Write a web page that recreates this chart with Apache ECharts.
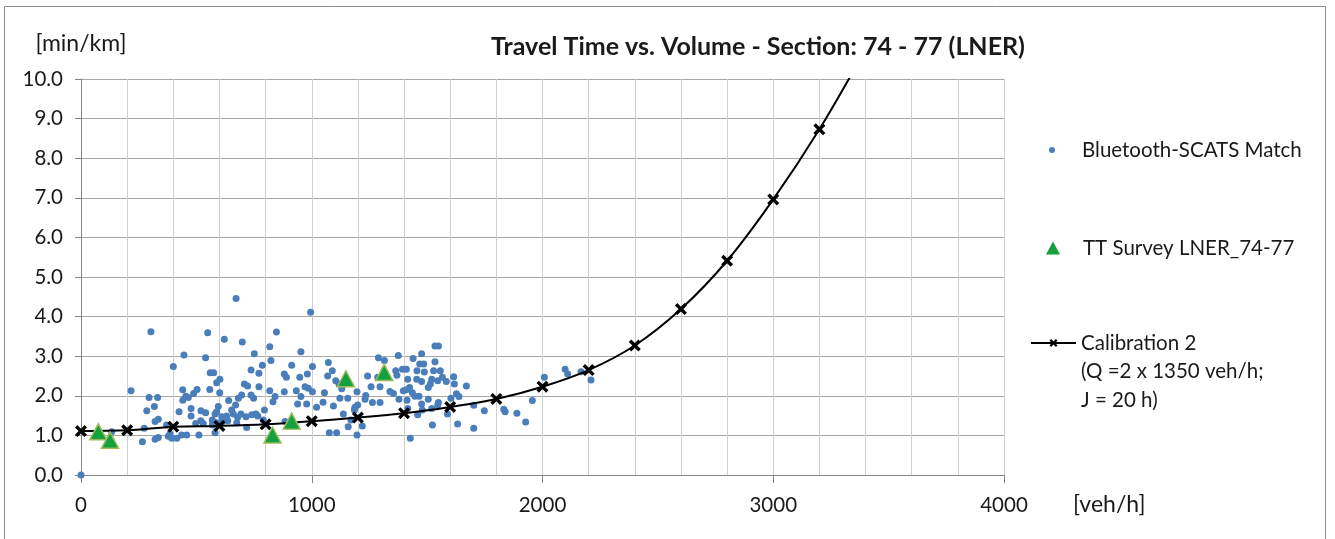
<!DOCTYPE html>
<html>
<head>
<meta charset="utf-8">
<style>
  html, body { margin: 0; padding: 0; background: #fff; }
  #chart { width: 1335px; height: 539px; }
</style>
<script src="https://cdn.jsdelivr.net/npm/echarts@6/dist/echarts.min.js"></script>
</head>
<body>
<div id="chart"></div>
<script>
// Bluetooth-SCATS matched observations: volume [veh/h] and travel time [min/km]
const btVolume = [
  0, 303, 446, 400, 217, 295, 332, 441, 441, 318, 285, 425, 335, 321, 371, 274, 133, 266, 321, 335, 378, 393, 415, 436, 386,
  672, 549, 621, 699, 847, 818, 751, 540, 823, 786, 913, 737, 560, 575, 771, 881, 890, 602, 588, 708, 722, 771, 558, 503, 818,
  881, 601, 488, 454, 465, 696, 737, 748, 682, 841, 640, 832, 477, 595, 670, 520, 540, 653, 795, 588, 477, 581, 660, 693, 715,
  740, 758, 766, 519, 497, 530, 569, 610, 631, 679, 636, 612, 675, 588, 569, 718, 458, 511, 581, 884, 916, 790,
  995, 953, 1289, 1315, 1375, 1003, 1072, 981, 948, 1089, 1069, 1104, 1118, 1242, 1286, 1364, 1393, 1369, 971, 985, 933, 1003,
  1055, 953, 1130, 1196, 1257, 1296, 1234, 1339, 1354, 1122, 1156, 1231, 1263, 1296, 1378, 1397, 939, 978, 1049, 1021, 1094,
  1187, 1199, 1137, 1185, 1170, 1158, 1219, 1076, 1108, 1196,
  1534, 1549, 1439, 1476, 1468, 1485, 1534, 1410, 1456, 1488, 1528, 1557, 1615, 1416, 1455, 1476, 1520, 1546, 1566, 1583, 1424,
  1410, 1505, 1514, 1618, 1670, 1436, 1447, 1465, 1638, 1627, 1413, 1505, 1549, 1603, 1476, 1546, 1416, 1479, 1520, 1459, 1588,
  1702, 1748, 1523, 1632, 1702, 1427, 1832, 1838,
  1889, 1927, 1956, 2008, 2098, 2109, 2167, 2210
];
const btTime = [
  0.00, 3.62, 3.03, 2.74, 2.13, 1.96, 1.96, 2.15, 1.89, 1.73, 1.62, 1.60, 1.41, 1.35, 1.26, 1.18, 1.09, 0.84, 0.90, 0.95, 0.98, 0.93, 0.93, 1.01, 1.04,
  4.46, 3.59, 3.43, 3.36, 3.61, 3.24, 3.06, 2.96, 2.89, 2.77, 2.77, 2.65, 2.58, 2.58, 2.57, 2.55, 2.47, 2.42, 2.33, 2.30, 2.25, 2.23, 2.16, 2.16, 2.13,
  2.10, 2.08, 2.06, 1.99, 1.96, 2.02, 2.02, 1.94, 1.94, 1.98, 1.88, 1.85, 1.68, 1.73, 1.77, 1.62, 1.57, 1.64, 1.64, 1.60, 1.49, 1.54, 1.54, 1.54, 1.47,
  1.52, 1.54, 1.49, 1.37, 1.30, 1.30, 1.39, 1.47, 1.49, 1.46, 1.37, 1.35, 1.32, 1.32, 1.26, 1.20, 1.01, 1.01, 1.07, 1.35, 1.30, 1.39,
  4.11, 3.11, 2.96, 2.89, 3.02, 2.74, 2.84, 2.55, 2.47, 2.63, 2.50, 2.38, 2.30, 2.50, 2.47, 2.63, 2.67, 2.52, 2.23, 2.19, 2.13, 2.10,
  2.08, 1.98, 2.18, 2.10, 2.23, 2.23, 2.01, 2.11, 2.06, 1.94, 1.94, 1.91, 1.83, 1.83, 1.91, 2.13, 1.79, 1.79, 1.84, 1.71, 1.74,
  1.71, 1.77, 1.54, 1.64, 1.39, 1.22, 1.24, 1.07, 1.07, 1.01,
  3.26, 3.26, 2.94, 3.06, 2.80, 2.80, 2.86, 2.67, 2.63, 2.60, 2.63, 2.63, 2.48, 2.42, 2.42, 2.36, 2.42, 2.38, 2.47, 2.36, 2.21,
  2.15, 2.21, 2.30, 2.30, 2.25, 2.08, 1.99, 1.99, 1.98, 2.05, 1.89, 1.91, 1.83, 1.94, 1.79, 1.77, 1.68, 1.64, 1.68, 1.52, 1.54,
  1.76, 1.62, 1.26, 1.29, 1.18, 0.93, 1.66, 1.60,
  1.56, 1.34, 1.88, 2.47, 2.67, 2.55, 2.61, 2.40
];

// Travel time survey runs
const surveyVolume = [75, 126, 830, 913, 1148, 1314];
const surveyTime = [1.09, 0.88, 1.01, 1.36, 2.43, 2.59];

// Calibrated volume-delay curve
const calVolume = [0, 200, 400, 600, 800, 1000, 1200, 1400, 1600, 1800, 2000, 2200, 2400, 2600, 2800, 3000, 3200, 3400];
const calTime = [1.11, 1.13, 1.22, 1.24, 1.28, 1.36, 1.45, 1.56, 1.72, 1.92, 2.23, 2.65, 3.27, 4.19, 5.41, 6.96, 8.73, 10.75];

const xTicks = { min: 0, max: 4000, step: 1000 };
const yTicks = { min: 0, max: 10, step: 1 };

const zip = (xs, ys) => xs.map((x, i) => [x, ys[i]]);

const FONT = 'Lato, "Noto Sans", sans-serif';
const TEXT = '#1a1a1a';
// bold "x" marker for the calibration curve
const crossPath = 'path://M0,2 L2,0 L5,3 L8,0 L10,2 L7,5 L10,8 L8,10 L5,7 L2,10 L0,8 L3,5 Z';

const chart = echarts.init(document.getElementById('chart'));
chart.setOption({
  animation: false,
  backgroundColor: '#fff',
  textStyle: { fontFamily: FONT },
  title: {
    text: 'Travel Time vs. Volume - Section: 74 - 77 (LNER)',
    left: 758,
    top: 32,
    textAlign: 'center',
    padding: 0,
    textStyle: { fontFamily: FONT, fontWeight: 'bold', fontSize: 25, lineHeight: 30, color: TEXT }
  },
  graphic: [{
    type: 'rect',
    silent: true,
    shape: { x: 4.5, y: 6.5, width: 1321, height: 600 },
    style: { fill: 'none', stroke: '#8c8c8c', lineWidth: 1 }
  }],
  grid: { left: 81, top: 79, width: 923, height: 396 },
  xAxis: {
    type: 'value',
    min: xTicks.min, max: xTicks.max, interval: xTicks.step,
    name: '\n[veh/h]',
    nameLocation: 'end',
    nameGap: 69,
    nameTextStyle: { fontFamily: FONT, fontSize: 23, lineHeight: 60, color: TEXT, align: 'left', verticalAlign: 'middle' },
    axisLine: { show: true, lineStyle: { color: '#868686', width: 1 } },
    axisTick: { show: true, length: 8, lineStyle: { color: '#868686' } },
    minorTick: { show: false, splitNumber: 5 },
    axisLabel: { margin: 20, fontFamily: FONT, fontSize: 20.5, color: TEXT, formatter: v => String(v) },
    splitLine: { show: true, lineStyle: { color: '#d0d0d0', width: 1 } },
    minorSplitLine: { show: true, lineStyle: { color: '#d0d0d0', width: 1 } }
  },
  yAxis: {
    type: 'value',
    min: yTicks.min, max: yTicks.max, interval: yTicks.step,
    name: '[min/km]',
    nameLocation: 'end',
    nameGap: 24,
    nameTextStyle: { fontFamily: FONT, fontSize: 23, color: TEXT, align: 'center' },
    axisLine: { show: true, lineStyle: { color: '#868686', width: 1 } },
    axisTick: { show: true, length: 6, inside: false, lineStyle: { color: '#868686' } },
    axisLabel: {
      margin: 18, fontFamily: FONT, fontSize: 20.5, color: TEXT,
      formatter: v => v.toFixed(1)
    },
    splitLine: { show: true, lineStyle: { color: '#a6a6a6', width: 1 } }
  },
  legend: [
    {
      data: [{ name: 'Bluetooth-SCATS Match', icon: 'circle' }],
      left: 1049, top: 136, padding: 0,
      itemWidth: 6, itemHeight: 6,
      selectedMode: false,
      textStyle: { fontFamily: FONT, fontSize: 20.5, lineHeight: 28, color: TEXT, padding: [0, 0, 0, 22] }
    },
    {
      data: [{ name: 'TT Survey LNER_74-77', icon: 'triangle', itemStyle: { borderWidth: 0 } }],
      left: 1046, top: 234, padding: 0,
      itemWidth: 14, itemHeight: 13,
      selectedMode: false,
      textStyle: { fontFamily: FONT, fontSize: 20.5, lineHeight: 28, color: TEXT, padding: [0, 0, 0, 18] }
    },
    {
      data: ['Calibration 2'],
      left: 1030, top: 271.75, padding: 0,
      itemWidth: 45, itemHeight: 10,
      selectedMode: false,
      formatter: name => '\n\n' + name + '\n(Q =2 x 1350 veh/h;\nJ = 20 h)',
      textStyle: { fontFamily: FONT, fontSize: 20.5, lineHeight: 28.5, color: TEXT }
    }
  ],
  series: [
    {
      name: 'Bluetooth-SCATS Match',
      type: 'scatter',
      symbol: 'circle',
      symbolSize: 7,
      itemStyle: { color: '#4a7ebb', opacity: 1 },
      data: zip(btVolume, btTime),
      z: 2
    },
    {
      name: 'Calibration 2',
      type: 'line',
      smooth: 0.35,
      clip: true,
      symbol: crossPath,
      symbolSize: 12,
      showAllSymbol: true,
      lineStyle: { color: '#000', width: 2 },
      itemStyle: { color: '#000', borderWidth: 0 },
      data: zip(calVolume, calTime),
      z: 3
    },
    {
      name: 'TT Survey LNER_74-77',
      type: 'scatter',
      symbol: 'triangle',
      symbolSize: [17, 16],
      itemStyle: { color: '#13a03e', borderColor: '#9bbb59', borderWidth: 1.5, opacity: 1 },
      data: zip(surveyVolume, surveyTime),
      z: 4
    }
  ]
});
</script>
</body>
</html>
